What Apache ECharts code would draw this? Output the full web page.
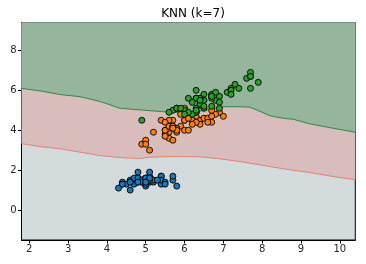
<!DOCTYPE html>
<html><head><meta charset="utf-8">
<script src="https://cdn.jsdelivr.net/npm/echarts@6/dist/echarts.min.js"></script>
<style>html,body{margin:0;padding:0;background:#fff}#c{width:366px;height:264px}</style>
</head><body><div id="c"></div>
<script>
const xTicks = [2,3,4,5,6,7,8,9,10];
const yTicks = [0,2,4,6,8];
const setosa = [[5.1,1.4],[4.9,1.4],[4.7,1.3],[4.6,1.5],[5.0,1.4],[5.4,1.7],[4.6,1.4],[5.0,1.5],[4.4,1.4],[4.9,1.5],[5.4,1.5],[4.8,1.6],[4.8,1.4],[4.3,1.1],[5.8,1.2],[5.7,1.5],[5.4,1.3],[5.1,1.4],[5.7,1.7],[5.1,1.5],[5.4,1.7],[5.1,1.5],[4.6,1.0],[5.1,1.7],[4.8,1.9],[5.0,1.6],[5.0,1.6],[5.2,1.5],[5.2,1.4],[4.7,1.6],[4.8,1.6],[5.4,1.5],[5.2,1.5],[5.5,1.4],[4.9,1.5],[5.0,1.2],[5.5,1.3],[4.9,1.4],[4.4,1.3],[5.1,1.5],[5.0,1.3],[4.5,1.3],[4.4,1.3],[5.0,1.6],[5.1,1.9],[4.8,1.4],[5.1,1.6],[4.6,1.4],[5.3,1.5],[5.0,1.4]];
const versicolor = [[7.0,4.7],[6.4,4.5],[6.9,4.9],[5.5,4.0],[6.5,4.6],[5.7,4.5],[6.3,4.7],[4.9,3.3],[6.6,4.6],[5.2,3.9],[5.0,3.5],[5.9,4.2],[6.0,4.0],[6.1,4.7],[5.6,3.6],[6.7,4.4],[5.6,4.5],[5.8,4.1],[6.2,4.5],[5.6,3.9],[5.9,4.8],[6.1,4.0],[6.3,4.9],[6.1,4.7],[6.4,4.3],[6.6,4.4],[6.8,4.8],[6.7,5.0],[6.0,4.5],[5.7,3.5],[5.5,3.8],[5.5,3.7],[5.8,3.9],[6.0,5.1],[5.4,4.5],[6.0,4.5],[6.7,4.7],[6.3,4.4],[5.6,4.1],[5.5,4.0],[5.5,4.4],[6.1,4.6],[5.8,4.0],[5.0,3.3],[5.6,4.2],[5.7,4.2],[5.7,4.2],[6.2,4.3],[5.1,3.0],[5.7,4.1]];
const virginica = [[6.3,6.0],[5.8,5.1],[7.1,5.9],[6.3,5.6],[6.5,5.8],[7.6,6.6],[4.9,4.5],[7.3,6.3],[6.7,5.8],[7.2,6.1],[6.5,5.1],[6.4,5.3],[6.8,5.5],[5.7,5.0],[5.8,5.1],[6.4,5.3],[6.5,5.5],[7.7,6.7],[7.7,6.9],[6.0,5.0],[6.9,5.7],[5.6,4.9],[7.7,6.7],[6.3,4.9],[6.7,5.7],[7.2,6.0],[6.2,4.8],[6.1,4.9],[6.4,5.6],[7.2,5.8],[7.4,6.1],[7.9,6.4],[6.4,5.6],[6.3,5.1],[6.1,5.6],[7.7,6.1],[6.3,5.6],[6.4,5.5],[6.0,4.8],[6.9,5.4],[6.7,5.6],[6.9,5.1],[5.8,5.1],[6.8,5.9],[6.7,5.7],[6.7,5.2],[6.3,5.0],[6.5,5.2],[6.2,5.4],[5.9,5.1]];
const upperBoundary = [[1.8,6.10],[2.28,5.97],[2.80,5.79],[3.31,5.68],[3.83,5.44],[4.34,5.10],[4.86,5.02],[5.37,4.94],[5.76,4.89],[6.27,4.92],[6.66,5.04],[6.96,5.18],[7.43,5.18],[7.68,5.15],[7.86,5.02],[8.21,4.72],[8.54,4.60],[8.80,4.55],[9.23,4.32],[9.83,4.10],[10.4,3.90]];
const lowerBoundary = [[1.8,3.33],[2.28,3.18],[2.80,3.07],[3.31,2.90],[3.83,2.73],[4.34,2.63],[4.86,2.58],[5.11,2.65],[5.71,2.68],[6.40,2.67],[6.91,2.57],[7.43,2.43],[7.68,2.35],[8.2,2.18],[8.71,2.02],[9.23,1.88],[9.83,1.68],[10.4,1.52]];

const chart = echarts.init(document.getElementById('c'), null, {renderer:'canvas'});
const font = 'DejaVu Sans';
const axisCommon = {
  axisLine:{show:true, onZero:false, lineStyle:{color:'#000', width:1}},
  axisTick:{show:true, length:3.5, lineStyle:{color:'#000'}},
  splitLine:{show:false},
  axisLabel:{color:'#262626', fontSize:10, fontFamily:font}
};
const sc = (name, data, color) => ({type:'scatter', name, data, symbol:'circle', symbolSize:6, z:10,
  itemStyle:{color, borderColor:'#000', borderWidth:0.9, opacity:1}});
chart.setOption({
  animation:false,
  title:{text:'KNN (k=7)', left:188, top:3, textAlign:'center',
    textStyle:{fontSize:12, fontWeight:'normal', color:'#000', fontFamily:font}},
  grid:{left:21.5, right:10.7, top:22.5, bottom:24, show:true, backgroundColor:'#d3dbdd', borderColor:'#000', borderWidth:1},
  xAxis:Object.assign({type:'value', min:1.8, max:10.4}, axisCommon, {
    axisTick:Object.assign({}, axisCommon.axisTick, {customValues:xTicks}),
    axisLabel:Object.assign({}, axisCommon.axisLabel, {customValues:xTicks, margin:4})}),
  yAxis:Object.assign({type:'value', min:-1.5, max:9.4}, axisCommon, {
    axisTick:Object.assign({}, axisCommon.axisTick, {customValues:yTicks}),
    axisLabel:Object.assign({}, axisCommon.axisLabel, {customValues:yTicks, margin:5})}),
  series:[
    {type:'line', data:lowerBoundary, symbol:'none', z:2, lineStyle:{color:'#e5806f', width:1},
      areaStyle:{color:'#d9bcbc', opacity:1, origin:'end'}},
    {type:'line', data:upperBoundary, symbol:'none', z:3, lineStyle:{color:'#2e8b3e', width:1},
      areaStyle:{color:'#95b59d', opacity:1, origin:'end'}},
    sc('setosa', setosa, '#1f77b4'),
    sc('versicolor', versicolor, '#ff7f0e'),
    sc('virginica', virginica, '#2ca02c')
  ]
});
</script></body></html>
